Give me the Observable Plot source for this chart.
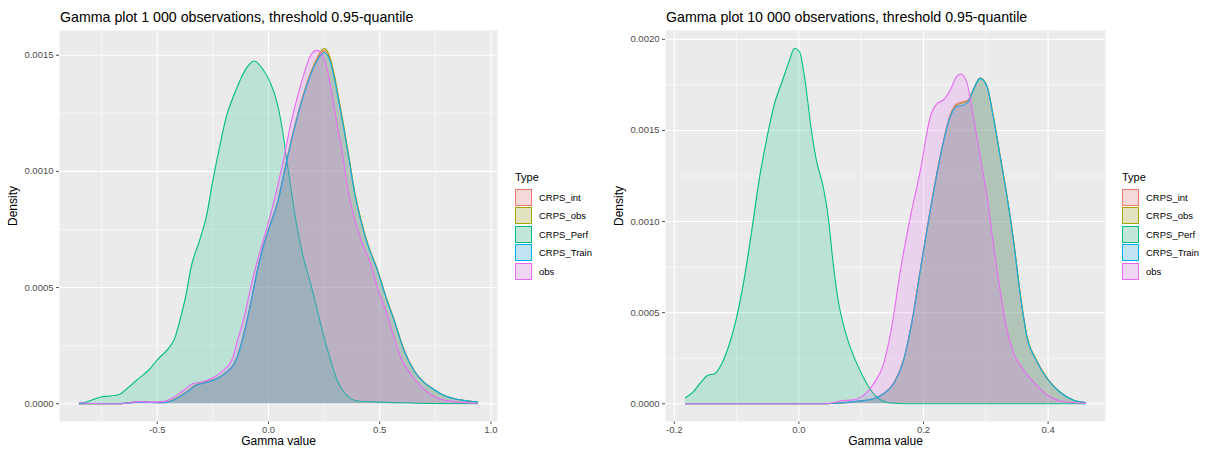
<!DOCTYPE html>
<html>
<head>
<meta charset="utf-8">
<script src="https://cdn.jsdelivr.net/npm/d3@7"></script>
<script src="https://cdn.jsdelivr.net/npm/@observablehq/plot@0.6"></script>
<style>
  html, body { margin: 0; padding: 0; background: #fff; }
  body { width: 1206px; height: 457px; position: relative; overflow: hidden; font-family: 'Liberation Sans', Arial, sans-serif; }
  .title { position: absolute; font-size: 14.2px; color: #000; white-space: nowrap; line-height: 1; }
  .chart { position: absolute; top: 26px; }
  .legend { position: absolute; top: 169px; font-size: 9.5px; color: #000; }
  .legend .ltitle { font-size: 11px; height: 19px; line-height: 16px; }
  .legend .row { height: 18.5px; display: flex; align-items: center; }
  .legend .key { width: 17px; height: 17px; background: #F2F2F2; position: relative; margin-right: 7px; box-sizing: border-box; }
  .legend .key div { position: absolute; left: 0; top: 0; right: 0; bottom: 0; box-sizing: border-box; border: 1.3px solid; }
</style>
</head>
<body>
<div class="title" id="t1" style="left:60px; top:10px;"></div>
<div class="title" id="t2" style="left:666px; top:10px;"></div>
<div class="chart" id="c1" style="left:0px;"></div>
<div class="chart" id="c2" style="left:600px;"></div>
<div class="legend" id="l1" style="left:515px;"></div>
<div class="legend" id="l2" style="left:1122px;"></div>
<script>
// ---------- text ----------
const titles = ["Gamma plot 1 000 observations, threshold 0.95-quantile",
                "Gamma plot 10 000 observations, threshold 0.95-quantile"];
const xTitle = "Gamma value";
const yTitle = "Density";
const legendTitle = "Type";

// ---------- categories & colours ----------
const types = ["CRPS_int", "CRPS_obs", "CRPS_Perf", "CRPS_Train", "obs"];
const colors = ["#F8766D", "#A3A500", "#00BF7D", "#00B0F6", "#E76BF3"];

// ---------- ticks ----------
const leftXMajor = [-0.5, 0.0, 0.5, 1.0];
const leftXMinor = [-0.75, -0.25, 0.25, 0.75];
const leftYMajor = [0, 0.0005, 0.0010, 0.0015];
const leftYMinor = [0.00025, 0.00075, 0.00125];
const rightXMajor = [-0.2, 0.0, 0.2, 0.4];
const rightXMinor = [-0.1, 0.1, 0.3];
const rightYMajor = [0, 0.0005, 0.0010, 0.0015, 0.0020];
const rightYMinor = [0.00025, 0.00075, 0.00125, 0.00175];

// density values below are read in units of 0.001
const densityUnit = 0.001;

// ---------- left panel: 1 000 observations ----------
const leftIntX = [-0.85,-0.67,-0.58,-0.475,-0.43,-0.37,-0.325,-0.28,-0.235,-0.19,-0.155,-0.14,-0.11,-0.08,-0.05,-0.02,0.01,0.04,0.07,0.1,0.13,0.16,0.205,0.235,0.248,0.273,0.295,0.318,0.34,0.363,0.385,0.415,0.445,0.49,0.528,0.565,0.61,0.655,0.7,0.73,0.78,0.84,0.9,0.94];
const leftIntY = [0,0,0.007,0.004,0.015,0.05,0.082,0.094,0.107,0.136,0.172,0.205,0.305,0.432,0.575,0.69,0.778,0.865,0.995,1.125,1.24,1.34,1.457,1.508,1.52,1.495,1.415,1.298,1.182,1.052,0.922,0.792,0.69,0.575,0.46,0.36,0.23,0.143,0.092,0.07,0.04,0.02,0.012,0.008];
const leftObsX = [-0.85,-0.67,-0.58,-0.475,-0.43,-0.37,-0.325,-0.28,-0.235,-0.19,-0.155,-0.14,-0.11,-0.08,-0.05,-0.02,0.01,0.04,0.07,0.1,0.13,0.16,0.205,0.235,0.25,0.273,0.295,0.318,0.34,0.363,0.385,0.415,0.445,0.49,0.528,0.565,0.61,0.655,0.7,0.73,0.78,0.84,0.9,0.94];
const leftObsY = [0,0,0.008,0.005,0.016,0.05,0.081,0.093,0.106,0.135,0.171,0.203,0.303,0.43,0.573,0.688,0.776,0.862,0.992,1.122,1.238,1.34,1.46,1.515,1.53,1.5,1.42,1.302,1.186,1.055,0.925,0.795,0.692,0.576,0.461,0.36,0.229,0.142,0.092,0.071,0.04,0.02,0.012,0.008];
const leftPerfX = [-0.85,-0.805,-0.752,-0.715,-0.67,-0.64,-0.588,-0.535,-0.498,-0.453,-0.423,-0.393,-0.37,-0.348,-0.31,-0.28,-0.25,-0.22,-0.19,-0.153,-0.124,-0.095,-0.065,-0.027,0.01,0.04,0.063,0.078,0.1,0.123,0.153,0.19,0.22,0.25,0.28,0.31,0.348,0.4,0.505,0.61,0.73,0.94];
const leftPerfY = [0,0.012,0.029,0.033,0.04,0.062,0.105,0.148,0.191,0.234,0.278,0.378,0.472,0.587,0.702,0.802,0.961,1.104,1.234,1.334,1.4,1.45,1.475,1.442,1.378,1.291,1.176,1.076,0.932,0.788,0.644,0.515,0.4,0.285,0.184,0.098,0.04,0.012,0.007,0.004,0.001,0];
const leftTrainX = [-0.85,-0.67,-0.58,-0.475,-0.43,-0.37,-0.325,-0.28,-0.235,-0.19,-0.155,-0.14,-0.11,-0.08,-0.05,-0.02,0.01,0.04,0.07,0.1,0.13,0.16,0.205,0.235,0.25,0.273,0.295,0.318,0.34,0.363,0.385,0.415,0.445,0.49,0.528,0.565,0.61,0.655,0.7,0.73,0.78,0.84,0.9,0.94];
const leftTrainY = [0,0,0.007,0.004,0.014,0.047,0.079,0.091,0.105,0.134,0.17,0.2,0.3,0.429,0.572,0.687,0.774,0.86,0.989,1.119,1.234,1.334,1.45,1.5,1.511,1.485,1.406,1.291,1.176,1.047,0.917,0.788,0.687,0.572,0.457,0.357,0.227,0.141,0.091,0.07,0.04,0.02,0.012,0.008];
const leftObsDataX = [-0.85,-0.745,-0.67,-0.58,-0.52,-0.475,-0.43,-0.385,-0.34,-0.295,-0.25,-0.205,-0.16,-0.14,-0.11,-0.08,-0.05,-0.02,0.01,0.04,0.07,0.1,0.13,0.16,0.19,0.217,0.243,0.265,0.288,0.31,0.333,0.355,0.385,0.423,0.46,0.49,0.528,0.565,0.595,0.64,0.685,0.73,0.78,0.84,0.94];
const leftObsDataY = [0.004,0,0,0.009,0.007,0.009,0.026,0.055,0.086,0.095,0.112,0.141,0.198,0.27,0.371,0.5,0.615,0.716,0.817,0.932,1.061,1.205,1.32,1.421,1.5,1.521,1.5,1.435,1.32,1.191,1.076,0.932,0.802,0.687,0.601,0.5,0.4,0.285,0.198,0.127,0.076,0.04,0.018,0.008,0.002];

// ---------- right panel: 10 000 observations ----------
const rightIntX = [-0.182,0.04,0.066,0.093,0.12,0.136,0.152,0.168,0.181,0.195,0.211,0.227,0.243,0.253,0.264,0.272,0.28,0.291,0.302,0.312,0.323,0.334,0.345,0.355,0.366,0.381,0.4,0.42,0.44,0.46];
const rightIntY = [0,0,0.004,0.013,0.028,0.056,0.112,0.24,0.443,0.738,1.068,1.362,1.585,1.645,1.658,1.668,1.725,1.787,1.742,1.578,1.36,1.14,0.884,0.61,0.37,0.24,0.132,0.061,0.02,0.006];
const rightObsX = [-0.182,0.04,0.066,0.093,0.12,0.136,0.152,0.168,0.181,0.195,0.211,0.227,0.243,0.253,0.264,0.272,0.28,0.291,0.302,0.312,0.323,0.334,0.345,0.355,0.366,0.381,0.4,0.42,0.44,0.46];
const rightObsY = [0,0,0.004,0.013,0.027,0.055,0.111,0.239,0.442,0.736,1.066,1.36,1.582,1.64,1.652,1.664,1.724,1.787,1.743,1.58,1.362,1.142,0.886,0.612,0.372,0.242,0.133,0.062,0.02,0.006];
const rightPerfX = [-0.182,-0.17,-0.159,-0.146,-0.135,-0.125,-0.114,-0.101,-0.09,-0.082,-0.074,-0.063,-0.052,-0.039,-0.026,-0.015,-0.007,0.001,0.009,0.02,0.028,0.039,0.047,0.055,0.063,0.071,0.077,0.093,0.109,0.125,0.147,0.173,0.3,0.46];
const rightPerfY = [0.033,0.064,0.11,0.156,0.165,0.211,0.302,0.458,0.641,0.806,0.989,1.245,1.447,1.648,1.777,1.886,1.951,1.932,1.795,1.502,1.337,1.19,1.026,0.769,0.568,0.44,0.366,0.22,0.11,0.037,0.004,0,0,0];
const rightTrainX = [-0.182,0.04,0.066,0.093,0.12,0.136,0.152,0.168,0.181,0.195,0.211,0.227,0.243,0.253,0.264,0.272,0.28,0.291,0.302,0.312,0.323,0.334,0.345,0.355,0.366,0.381,0.4,0.42,0.44,0.46];
const rightTrainY = [0,0,0.004,0.013,0.027,0.055,0.11,0.238,0.44,0.733,1.062,1.355,1.575,1.63,1.639,1.658,1.722,1.786,1.74,1.575,1.355,1.136,0.879,0.604,0.366,0.238,0.13,0.06,0.02,0.006];
const rightObsDataX = [-0.182,0.04,0.055,0.066,0.088,0.104,0.12,0.136,0.149,0.163,0.179,0.195,0.211,0.222,0.232,0.243,0.253,0.26,0.27,0.28,0.291,0.302,0.312,0.323,0.334,0.345,0.361,0.377,0.4,0.42,0.46];
const rightObsDataY = [0,0,0.005,0.015,0.022,0.046,0.11,0.22,0.421,0.733,1.026,1.282,1.575,1.648,1.667,1.722,1.795,1.81,1.758,1.575,1.355,1.136,0.879,0.623,0.403,0.275,0.183,0.119,0.045,0.015,0.002];

const leftSeries = [[leftIntX, leftIntY], [leftObsX, leftObsY], [leftPerfX, leftPerfY], [leftTrainX, leftTrainY], [leftObsDataX, leftObsDataY]];
const rightSeries = [[rightIntX, rightIntY], [rightObsX, rightObsY], [rightPerfX, rightPerfY], [rightTrainX, rightTrainY], [rightObsDataX, rightObsDataY]];

const FONT = "'Liberation Sans', Arial, sans-serif";

function table(series) {
  return series.map(([xs, ys], i) => xs.map((x, j) => ({type: types[i], x, y: ys[j] * densityUnit})));
}

function chart(series, opts) {
  const groups = table(series);
  const all = groups.flat();
  const [x0, x1] = d3.extent(all, d => d.x);
  const yMax = d3.max(all, d => d.y);
  const px = (x1 - x0) * 0.05, py = yMax * 0.05;
  const marks = [
    Plot.frame({fill: "#EBEBEB", stroke: "none"}),
    Plot.ruleX(opts.xMinor, {stroke: "#ffffff", strokeWidth: 0.55}),
    Plot.ruleY(opts.yMinor, {stroke: "#ffffff", strokeWidth: 0.55}),
    Plot.ruleX(opts.xMajor, {stroke: "#ffffff", strokeWidth: 1.1}),
    Plot.ruleY(opts.yMajor, {stroke: "#ffffff", strokeWidth: 1.1}),
  ];
  groups.forEach((g, i) => {
    marks.push(Plot.areaY(g, {x: "x", y: "y", fill: colors[i], fillOpacity: 0.2, curve: "monotone-x"}));
    marks.push(Plot.lineY(g, {x: "x", y: "y", stroke: colors[i], strokeWidth: 1.1, curve: "monotone-x"}));
  });
  marks.push(Plot.text([xTitle], {frameAnchor: "bottom", dy: 23, fontSize: 12, fill: "#000"}));
  marks.push(Plot.text([yTitle], {frameAnchor: "left", dx: -46, rotate: -90, fontSize: 12, fill: "#000"}));
  return Plot.plot({
    width: opts.width, height: 431,
    marginLeft: opts.marginLeft, marginRight: 8, marginTop: 4, marginBottom: 36,
    style: {fontFamily: FONT, fontSize: "9.5px", color: "#4D4D4D", background: "transparent"},
    x: {domain: [x0 - px, x1 + px], ticks: opts.xMajor, tickFormat: d => d.toFixed(1), label: null, tickSize: 3, tickPadding: 2},
    y: {domain: [-py, yMax + py], ticks: opts.yMajor, tickFormat: d => d.toFixed(4), label: null, tickSize: 3, tickPadding: 3},
    marks
  });
}

function legend(el) {
  const t = document.createElement("div");
  t.className = "ltitle"; t.textContent = legendTitle; el.appendChild(t);
  types.forEach((ty, i) => {
    const row = document.createElement("div"); row.className = "row";
    const key = document.createElement("div"); key.className = "key";
    const inner = document.createElement("div");
    const c = d3.color(colors[i]); c.opacity = 0.2;
    inner.style.background = c.formatRgb();
    inner.style.borderColor = colors[i];
    key.appendChild(inner);
    const lab = document.createElement("span"); lab.textContent = ty;
    row.appendChild(key); row.appendChild(lab);
    el.appendChild(row);
  });
}

document.getElementById("t1").textContent = titles[0];
document.getElementById("t2").textContent = titles[1];
document.getElementById("c1").appendChild(chart(leftSeries, {width: 505, marginLeft: 59, xMajor: leftXMajor, xMinor: leftXMinor, yMajor: leftYMajor, yMinor: leftYMinor}));
document.getElementById("c2").appendChild(chart(rightSeries, {width: 513, marginLeft: 65, xMajor: rightXMajor, xMinor: rightXMinor, yMajor: rightYMajor, yMinor: rightYMinor}));
legend(document.getElementById("l1"));
legend(document.getElementById("l2"));
</script>
</body>
</html>
